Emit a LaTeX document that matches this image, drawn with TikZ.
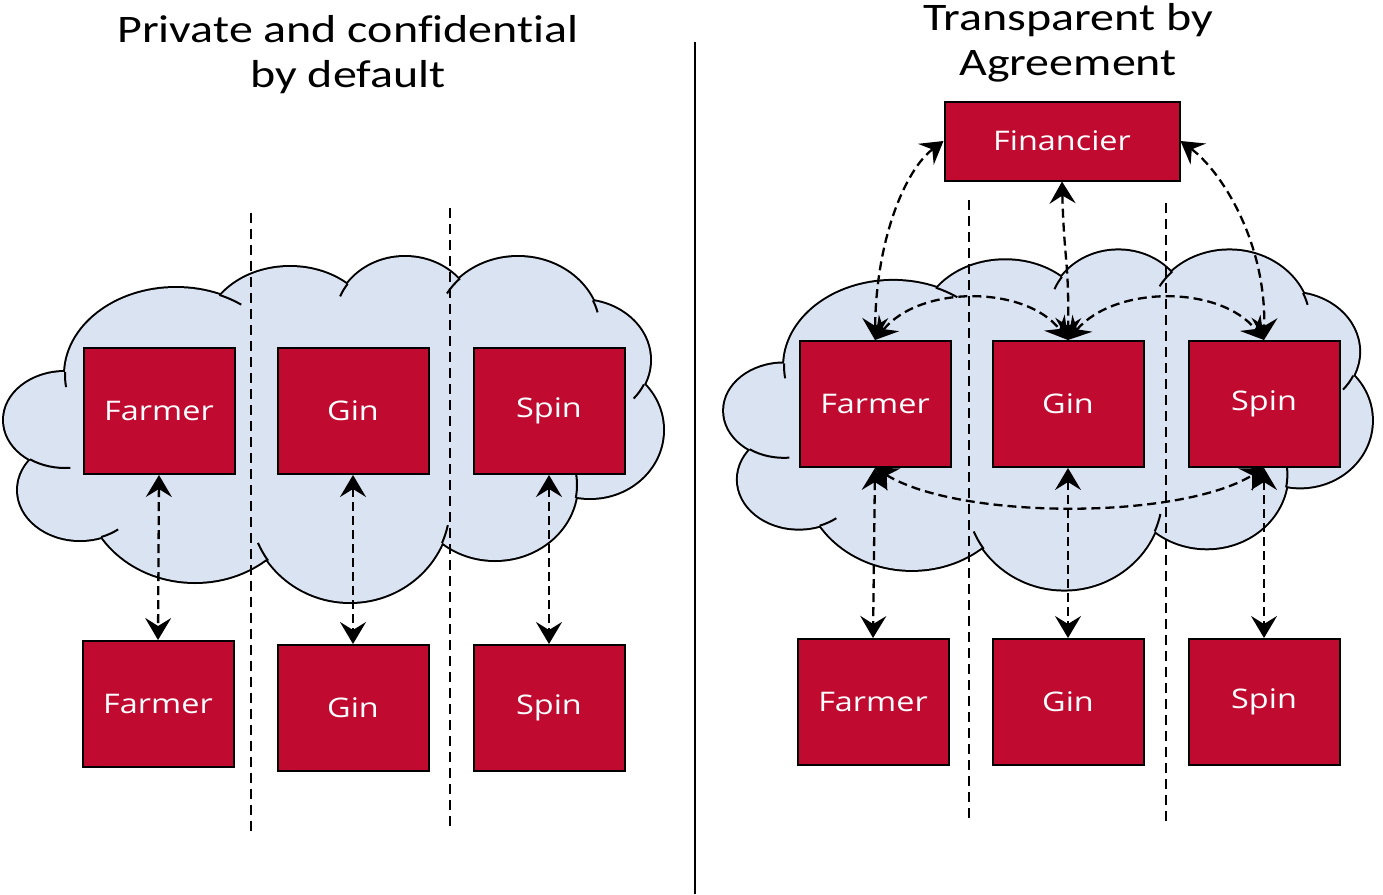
\documentclass[tikz,border=0pt]{standalone}
\usepackage{fontspec}
\usepackage{tikz}
\usetikzlibrary{arrows.meta,positioning}

\newfontfamily\titlefont[FakeStretch=1.23, Ligatures=NoCommon]{Carlito}
\newfontfamily\boxfont[FakeStretch=1.2]{Open Sans}
\definecolor{boxred}{RGB}{192,10,48}
\definecolor{cloudblue}{RGB}{218,227,242}

\newcommand{\cloudpuffs}{65/420/61/48, 80/490/62/50, 176/375/111/87, 290/335/85/68, 405/320/70/63, 518/330/82/73, 580/360/70/60, 590/430/73/68, 495/485/82/75, 350/505/100/97, 195/485/110/97}
\newcommand{\cloudhooks}{176/375/111/87/182/172, 65/420/61/48/125/85, 80/490/62/50/70/52, 350/505/100/97/145/157, 176/375/111/87/-67/-54, 405/320/70/63/-145/-158, 518/330/82/73/-135/-150, 518/330/82/73/-24/-14, 580/360/70/60/24/40, 495/485/82/75/10/-12, 350/505/100/97/23/12}
\newcommand{\drawcloud}{%
    \foreach \cx/\cy/\rx/\ry in \cloudpuffs
        \draw[line width=4pt] (\cx,\cy) ellipse [x radius=\rx, y radius=\ry];
    \foreach \cx/\cy/\rx/\ry in \cloudpuffs
        \fill[cloudblue] (\cx,\cy) ellipse [x radius=\rx, y radius=\ry];
    \fill[cloudblue] (335,425) ellipse [x radius=250, y radius=100];
    \foreach \cx/\cy/\rx/\ry/\a/\b in \cloudhooks
        \draw[line width=2pt] (\cx,\cy) ++({\a}:{\rx} and {\ry}) arc[start angle=\a, end angle=\b, x radius=\rx, y radius=\ry];
}

\tikzset{
    actor/.style={draw=black, line width=2pt, fill=boxred, text=white, inner sep=0pt,
        minimum width=151pt, minimum height=126pt, font=\boxfont\fontsize{27}{30}\selectfont},
    heading/.style={align=center, font=\titlefont\fontsize{39}{45}\selectfont},
    border/.style={dash pattern=on 10pt off 6pt, line width=2pt},
    link/.style={{Stealth[length=22pt,width=26pt,inset=8pt]}-{Stealth[length=22pt,width=26pt,inset=8pt]},
        dash pattern=on 9pt off 5pt, line width=2.3pt}
}

\begin{document}
\begin{tikzpicture}[x=1pt, y=-1pt]
    \useasboundingbox (0,0) rectangle (1383,894);

    \node[heading] (lhead) at (348,55) {Private and confidential\\by default};
    \node[heading] (rhead) at (1068,43) {Transparent by\\Agreement};
    \draw[line width=2.6pt] (695,42) -- (695,894);

    \begin{scope}
        \drawcloud
    \end{scope}
    \begin{scope}[shift={(1048,420)}, scale=0.983, shift={(-333.5,-429.5)}]
        \drawcloud
    \end{scope}

    \draw[border] (251,213) -- (251,835);
    \draw[border] (450,208) -- (450,828);
    \draw[border] (969,200) -- (969,820);
    \draw[border] (1166,203) -- (1166,822);

    \foreach \nm/\lbl/\x/\y in {farm/Farmer/159/411, gin/Gin/353/411, spin/Spin/549/411} {
        \node[actor] (l\nm) at (\x,\y) {\lbl};
    }
    \foreach \nm/\lbl/\x/\y in {farm/Farmer/158/704, gin/Gin/353/708, spin/Spin/549/708} {
        \node[actor] (lb\nm) at (\x,\y) {\lbl};
    }
    \foreach \nm/\lbl/\x/\y in {farm/Farmer/875/404, gin/Gin/1068/404, spin/Spin/1264/404} {
        \node[actor] (r\nm) at (\x,\y) {\lbl};
    }
    \foreach \nm/\lbl/\x/\y in {farm/Farmer/873/702, gin/Gin/1068/702, spin/Spin/1264/702} {
        \node[actor] (rb\nm) at (\x,\y) {\lbl};
    }
    \node[actor, minimum width=235pt, minimum height=79pt] (fin) at (1062,141) {Financier};

    \foreach \nm in {farm,gin,spin} {
        \draw[link] (l\nm.south) -- (lb\nm.north);
        \draw[link] (r\nm.south) -- (rb\nm.north);
    }

    \draw[link] (fin.west) .. controls (905,170) and (876,240) .. (rfarm.north);
    \draw[link] (fin.east) .. controls (1220,170) and (1266,240) .. (rspin.north);
    \draw[link] (fin.south) .. controls (1064,260) and (1069,260) .. (rgin.north);
    \draw[link] (rfarm.north) .. controls (920,285) and (1025,285) .. (rgin.north);
    \draw[link] (rgin.north) .. controls (1115,285) and (1220,285) .. (rspin.north);
    \draw[link] (rfarm.south) .. controls (960,520) and (1180,520) .. (rspin.south);
\end{tikzpicture}
\end{document}
